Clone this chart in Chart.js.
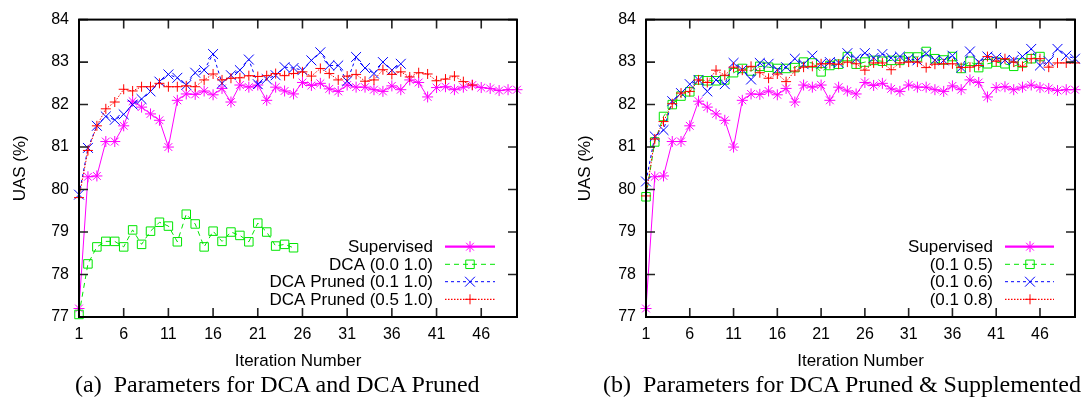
<!DOCTYPE html>
<html><head><meta charset="utf-8">
<script src="https://cdn.jsdelivr.net/npm/chart.js@4/dist/chart.umd.min.js"></script>
<style>
html,body{margin:0;padding:0;background:#fff;}
#wrap{position:relative;width:1083px;height:399px;overflow:hidden;background:#fff;}
.cv{position:absolute;top:0;height:399px;}
.cap{position:absolute;font-family:"Liberation Serif","Times New Roman",serif;font-size:24px;line-height:24px;white-space:pre;color:#000;}
</style></head><body>
<div id="wrap">
<div class="cv" style="left:0;width:541px"><canvas id="c1" width="541" height="399"></canvas></div>
<div class="cv" style="left:541px;width:542px"><canvas id="c2" width="542" height="399"></canvas></div>
<div class="cap" id="capA" style="left:75px;top:372px"></div>
<div class="cap" id="capB" style="left:603px;top:372px"></div>
</div>
<script>
// ---------- data ----------
const iterations = [1,2,3,4,5,6,7,8,9,10,11,12,13,14,15,16,17,18,19,20,21,22,23,24,25,26,27,28,29,30,31,32,33,34,35,36,37,38,39,40,41,42,43,44,45,46,47,48,49,50];
const xTickValues = [1,6,11,16,21,26,31,36,41,46];
const yTickValues = [77,78,79,80,81,82,83,84];

const supervised = [77.2,80.3,80.32,81.13,81.13,81.5,82.08,81.94,81.78,81.63,
  81.0,82.1,82.25,82.24,82.32,82.23,82.38,82.06,82.46,82.41,
  82.46,82.1,82.41,82.32,82.25,82.52,82.45,82.5,82.37,82.31,
  82.46,82.41,82.41,82.35,82.31,82.44,82.35,82.58,82.52,82.18,
  82.4,82.42,82.35,82.41,82.46,82.4,82.38,82.33,82.35,82.35];

// panel (a)
const dca_00_10 = [77.06,78.25,78.65,78.78,78.78,78.65,79.05,78.71,79.02,79.23,
  79.14,78.77,79.42,79.19,78.65,79.02,78.78,79.0,78.92,78.77,
  79.21,79.0,78.67,78.71,78.63];
const pruned_01_10 = [79.88,80.98,81.5,81.72,81.64,81.77,82.0,82.13,82.31,82.54,
  82.71,82.63,82.46,82.75,82.81,83.19,82.5,82.69,82.81,83.06,
  82.48,82.6,82.69,82.88,82.86,82.81,83.04,83.23,82.92,82.92,
  82.55,83.12,82.86,82.73,83.0,82.81,82.96];
const pruned_05_10 = [79.81,80.92,81.5,81.9,82.06,82.36,82.32,82.42,82.42,82.5,
  82.42,82.42,82.44,82.42,82.58,82.72,82.58,82.62,82.63,82.68,
  82.66,82.68,82.73,82.68,82.73,82.77,82.67,82.85,82.73,82.58,
  82.67,82.71,82.55,82.58,82.82,82.71,82.77,82.65,82.75,82.72,
  82.56,82.6,82.67,82.54,82.46];

// panel (b)
const sup_01_05 = [79.83,81.12,81.72,82.0,82.2,82.3,82.58,82.56,82.56,82.58,
  82.75,82.85,82.79,82.9,82.88,82.85,82.85,82.87,83.0,82.98,
  82.77,82.92,82.95,83.13,82.95,83.0,83.04,83.02,83.04,83.04,
  83.12,83.12,83.25,83.08,83.05,83.13,82.85,83.02,82.87,82.96,
  83.0,82.96,82.9,82.98,83.08,83.13];
const sup_01_06 = [80.19,81.25,81.4,82.08,82.27,82.48,82.58,82.31,82.58,82.48,
  82.98,82.82,82.59,82.98,82.96,82.82,82.88,83.08,82.95,83.15,
  82.96,83.0,82.98,83.21,83.08,83.21,83.1,83.19,83.1,83.13,
  83.08,83.04,83.2,83.05,83.04,83.15,82.87,83.25,83.0,83.13,
  83.1,83.05,83.05,83.13,83.31,82.92,83.02,83.31,83.15,83.08];
const sup_01_08 = [79.85,81.19,81.6,82.02,82.27,82.31,82.58,82.52,82.81,82.69,
  82.88,82.81,82.9,82.75,82.62,82.72,82.54,82.79,82.88,82.9,
  82.96,82.96,82.95,83.0,82.96,82.81,82.98,82.98,82.82,82.98,
  83.0,83.0,82.87,82.95,82.96,82.96,82.87,82.88,82.92,83.13,
  83.02,83.08,83.0,82.9,83.08,83.08,82.88,82.98,82.98,82.98];

const labelsA = ['Supervised','DCA (0.0 1.0)','DCA Pruned (0.1 1.0)','DCA Pruned (0.5 1.0)'];
const labelsB = ['Supervised','(0.1 0.5)','(0.1 0.6)','(0.1 0.8)'];
const captionA = '(a)  Parameters for DCA and DCA Pruned';
const captionB = '(b)  Parameters for DCA Pruned & Supplemented';
const xTitle = 'Iteration Number';
const yTitle = 'UAS (%)';

// ---------- styles ----------
const SANS = '"Liberation Sans", Arial, Helvetica, sans-serif';
const styles = [
  {color:'#ff00ff', dash:[], pointStyle:'star', radius:5.5, legendWidth:2.2},
  {color:'#00e600', dash:[5,4], pointStyle:'rect', radius:6, legendWidth:1},
  {color:'#0000ff', dash:[3,3], pointStyle:'crossRot', radius:7, legendWidth:1},
  {color:'#ff0000', dash:[1.5,1.5], pointStyle:'cross', radius:5, legendWidth:1.2}
];

function toPts(arr){ return arr.map((v,i)=>({x:iterations[i], y:v})); }

function makeDatasets(series, labels){
  return series.map((s,i)=>({
    label: labels[i],
    data: toPts(s),
    borderColor: styles[i].color,
    backgroundColor: 'rgba(0,0,0,0)',
    borderWidth: 1,
    borderDash: styles[i].dash,
    pointStyle: styles[i].pointStyle,
    pointRadius: styles[i].radius,
    pointBorderColor: styles[i].color,
    pointBackgroundColor: 'rgba(0,0,0,0)',
    pointBorderWidth: 1,
    tension: 0,
    fill: false,
    clip: false,
    order: -i
  }));
}

const framePlugin = {
  id:'frame',
  afterDatasetsDraw(chart, args, opts){
    const ctx = chart.ctx, a = chart.chartArea;
    const xs = chart.scales.x, ys = chart.scales.y;
    ctx.save();
    ctx.strokeStyle = '#222'; ctx.lineWidth = 1.6; ctx.setLineDash([]);
    const TL = 9;
    ctx.beginPath();
    xTickValues.forEach(v=>{
      const px = xs.getPixelForValue(v);
      ctx.moveTo(px, a.bottom); ctx.lineTo(px, a.bottom - TL);
      ctx.moveTo(px, a.top); ctx.lineTo(px, a.top + TL);
    });
    yTickValues.forEach(v=>{
      const py = ys.getPixelForValue(v);
      ctx.moveTo(a.left, py); ctx.lineTo(a.left + TL, py);
      ctx.moveTo(a.right, py); ctx.lineTo(a.right - TL, py);
    });
    ctx.stroke();
    ctx.strokeStyle = '#000'; ctx.lineWidth = 2;
    ctx.strokeRect(a.left, a.top, a.right - a.left, a.bottom - a.top);
    const L = opts.legend;
    ctx.font = '17px ' + SANS;
    ctx.textAlign = 'right'; ctx.textBaseline = 'middle';
    chart.data.datasets.forEach((ds,i)=>{
      const y = a.bottom - L.rows[i];
      ctx.fillStyle = '#000';
      ctx.fillText(ds.label, a.right - L.textRight, y + 1);
      const st = styles[i];
      ctx.strokeStyle = st.color; ctx.lineWidth = st.legendWidth;
      ctx.setLineDash(st.dash);
      ctx.beginPath();
      ctx.moveTo(a.right - L.lineStart, y); ctx.lineTo(a.right - L.lineEnd, y);
      ctx.stroke();
      ctx.setLineDash([]);
      ctx.lineWidth = 1; ctx.fillStyle = 'rgba(0,0,0,0)';
      Chart.helpers.drawPoint(ctx, {pointStyle: st.pointStyle, radius: st.radius, rotation: 0, borderWidth: 1}, a.right - L.marker, y);
    });
    ctx.restore();
  }
};

function makeChart(id, series, labels, yAxisWidth, yTitlePad, legend){
  return new Chart(document.getElementById(id), {
    type:'line',
    data:{ datasets: makeDatasets(series, labels) },
    options:{
      responsive:false, animation:false, devicePixelRatio:1, events:[],
      layout:{ padding:{ top:13, right: legend.padRight, left:0, bottom:0 } },
      plugins:{ legend:{display:false}, tooltip:{enabled:false}, title:{display:false}, frame:{legend} },
      scales:{
        x:{ type:'linear', min:1, max:50,
          afterBuildTicks: s => { s.ticks = xTickValues.map(v=>({value:v})); },
          afterFit: s => { s.height = 82; },
          grid:{ display:false, drawTicks:false }, border:{ display:false },
          ticks:{ padding:8, color:'#000', font:{ family:SANS, size:16 }, maxRotation:0, autoSkip:false },
          title:{ display:true, text:xTitle, color:'#000', font:{ family:SANS, size:17 }, padding:{ top:0, bottom:27 } }
        },
        y:{ type:'linear', min:77, max:84,
          afterBuildTicks: s => { s.ticks = yTickValues.map(v=>({value:v})); },
          afterFit: s => { s.width = yAxisWidth; },
          grid:{ display:false, drawTicks:false }, border:{ display:false },
          ticks:{ padding:10, color:'#000', font:{ family:SANS, size:16 } },
          title:{ display:true, text:yTitle, color:'#000', font:{ family:SANS, size:17 }, padding:{ top:yTitlePad, bottom:0 } }
        }
      }
    },
    plugins:[framePlugin]
  });
}

document.getElementById('capA').textContent = captionA;
document.getElementById('capB').textContent = captionB;

makeChart('c1', [supervised, dca_00_10, pruned_01_10, pruned_05_10], labelsA, 79, 10,
  {padRight:24, rows:[70.3,52.7,35.3,17.7], textRight:84, lineStart:72, lineEnd:22, marker:47});
makeChart('c2', [supervised, sup_01_05, sup_01_06, sup_01_08], labelsB, 105, 34,
  {padRight:1, rows:[70.3,52.7,35.3,17.7], textRight:82, lineStart:70, lineEnd:21, marker:45});
</script>
</body></html>
